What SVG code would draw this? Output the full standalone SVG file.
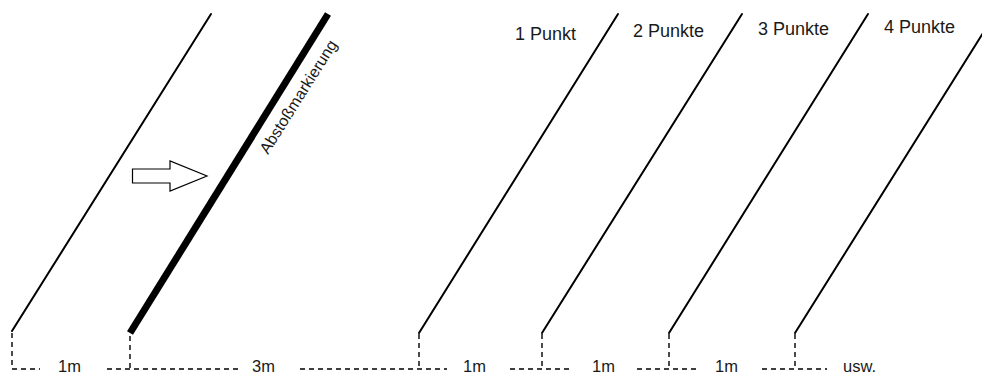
<svg xmlns="http://www.w3.org/2000/svg" width="982" height="376" viewBox="0 0 982 376">
<style>
.ln{stroke:#000;stroke-width:2;fill:none;stroke-linecap:round}
.thick{stroke:#000;stroke-width:7;fill:none}
.dash{stroke:#000;stroke-width:1.4;fill:none;stroke-dasharray:5 4}
.t{font-family:"Liberation Sans",Arial,sans-serif;font-size:18px;fill:#1a1a1a}
.b{font-family:"Liberation Sans",Arial,sans-serif;font-size:16.5px;fill:#1a1a1a}
.s{font-family:"Liberation Sans",Arial,sans-serif;font-size:16px;fill:#1a1a1a}
</style>
<rect width="982" height="376" fill="#fff"/>
<g id="lines">
<line class="ln" x1="12" y1="331" x2="211" y2="14"/>
<line class="thick" x1="130" y1="333" x2="328" y2="14"/>
<line class="ln" x1="419" y1="333" x2="618" y2="14"/>
<line class="ln" x1="542" y1="333" x2="742" y2="14"/>
<line class="ln" x1="669" y1="333" x2="868" y2="14"/>
<line class="ln" x1="795" y1="333" x2="995" y2="14"/>
</g>
<g id="dashes">
<line class="dash" x1="12" y1="333" x2="12" y2="369"/>
<line class="dash" x1="130" y1="336" x2="130" y2="369"/>
<line class="dash" x1="419" y1="334" x2="419" y2="369"/>
<line class="dash" x1="542" y1="334" x2="542" y2="369"/>
<line class="dash" x1="669" y1="334" x2="669" y2="369"/>
<line class="dash" x1="795" y1="334" x2="795" y2="369"/>
<line class="dash" x1="12" y1="369" x2="40" y2="369"/>
<line class="dash" x1="107" y1="369" x2="238" y2="369"/>
<line class="dash" x1="300" y1="369" x2="447" y2="369"/>
<line class="dash" x1="510" y1="369" x2="573" y2="369"/>
<line class="dash" x1="637" y1="369" x2="700" y2="369"/>
<line class="dash" x1="762" y1="369" x2="827" y2="369"/>
</g>
<g id="arrow">
<path d="M132.5,169 H170 V161 L207,176 L170,191 V183 H132.5 Z" fill="#fff" stroke="#000" stroke-width="1.2"/>
</g>
<g id="marker-label">
<text class="s" transform="translate(268,155) rotate(-57.75)">Abstoßmarkierung</text>
</g>
<g id="top-labels">
<text class="t" x="515" y="40">1 Punkt</text>
<text class="t" x="633" y="37">2 Punkte</text>
<text class="t" x="758" y="35">3 Punkte</text>
<text class="t" x="884" y="33">4 Punkte</text>
</g>
<g id="bottom-labels">
<text class="b" x="58" y="372">1m</text>
<text class="b" x="252" y="372">3m</text>
<text class="b" x="463" y="372">1m</text>
<text class="b" x="592" y="372">1m</text>
<text class="b" x="715" y="372">1m</text>
<text class="b" x="843" y="372">usw.</text>
</g>
</svg>
